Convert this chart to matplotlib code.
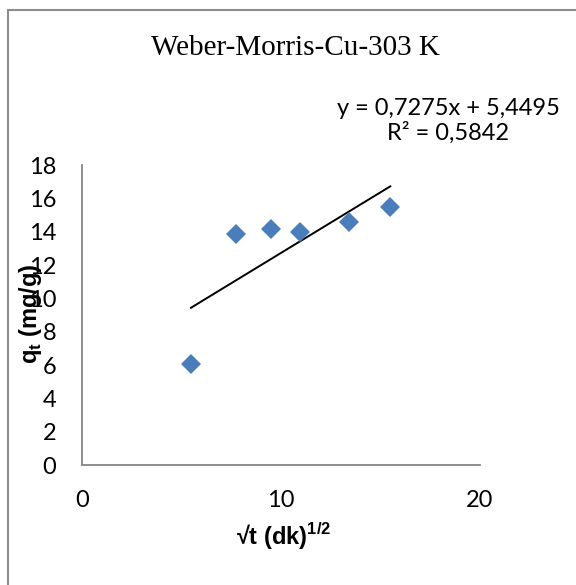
import matplotlib
matplotlib.use("Agg")
import matplotlib.pyplot as plt
from matplotlib.patches import Rectangle

# contact time (min) -> sqrt(t), uptake q_t (mg/g)
t_min = [30, 60, 90, 120, 180, 240]
sqrt_t = [t ** 0.5 for t in t_min]
q_t = [6.06, 13.88, 14.18, 14.00, 14.56, 15.48]

# linear trendline as reported
slope = 0.7275
intercept = 5.4495
r_squared = 0.5842

x_ticks = [0, 10, 20]
y_ticks = [0, 2, 4, 6, 8, 10, 12, 14, 16, 18]

plt.rcParams["mathtext.fontset"] = "custom"
plt.rcParams["mathtext.rm"] = "Liberation Sans:bold"
plt.rcParams["mathtext.bf"] = "Liberation Sans:bold"

fig = plt.figure(figsize=(5.76, 5.85), dpi=100)
fig.patch.set_facecolor("white")

# outer chart frame
fig.add_artist(Rectangle((8 / 576, -0.1), 1.2, 1 - 10 / 585 + 0.1,
                         transform=fig.transFigure, fill=False,
                         edgecolor="#8c8c8c", linewidth=1.5))

ax = fig.add_axes([82 / 576, 1 - 465 / 585, 398 / 576, 300 / 585])
ax.set_xlim(0, 20)
ax.set_ylim(0, 18)
ax.set_xticks(x_ticks)
ax.set_yticks(y_ticks)

for side in ("top", "right"):
    ax.spines[side].set_visible(False)
for side in ("left", "bottom"):
    ax.spines[side].set_color("#868686")
    ax.spines[side].set_linewidth(1.3)

ax.tick_params(length=0, labelsize=17)
ax.tick_params(axis="y", pad=18.5)
ax.tick_params(axis="x", pad=18)
for lab in ax.get_xticklabels() + ax.get_yticklabels():
    lab.set_fontfamily("Lato")

ax.plot(sqrt_t, q_t, linestyle="none", marker="D", markersize=10.5,
        color="#4a7ebb", markeredgewidth=0, zorder=3)

x0, x1 = min(sqrt_t), max(sqrt_t)
ax.plot([x0, x1], [slope * x0 + intercept, slope * x1 + intercept],
        color="black", linewidth=1.4, zorder=2)

fig.text(295 / 576, 1 - 48 / 585, "Weber-Morris-Cu-303 K", ha="center", va="center",
         fontfamily="Liberation Serif", fontsize=21)

eq = "y = {}x + {}\nR² = {}".format(str(slope).replace(".", ","),
                                    str(intercept).replace(".", ","),
                                    str(r_squared).replace(".", ","))
fig.text(448 / 576, 1 - 121 / 585, eq, ha="center", va="center",
         fontfamily="Lato", fontsize=17, linespacing=1.15)

fig.text(30 / 576, 1 - 314 / 585, r"q$_\mathregular{t}$ (mg/g)", rotation=90,
         ha="center", va="center", fontfamily="Liberation Sans",
         fontweight="bold", fontsize=17)
fig.text(284 / 576, 1 - 536 / 585, r"√t (dk)$^\mathregular{1/2}$",
         ha="center", va="center", fontfamily=["Liberation Sans", "DejaVu Sans"],
         fontweight="bold", fontsize=17)

fig.savefig("out.png", dpi=100)
